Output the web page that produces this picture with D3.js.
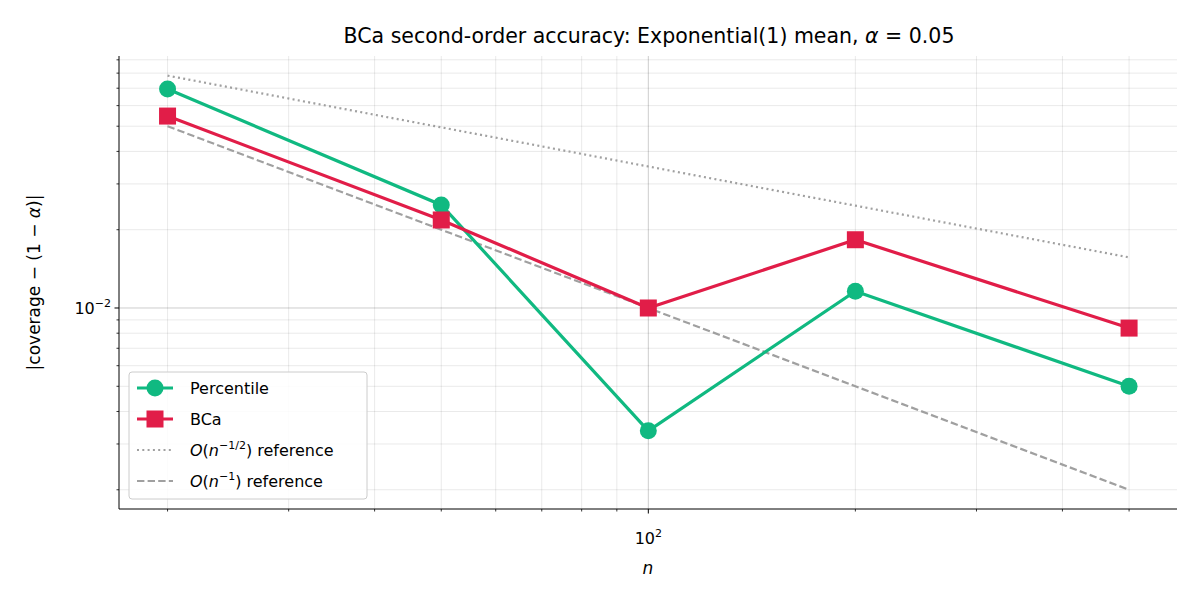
<!DOCTYPE html>
<html><head><meta charset="utf-8">
<script src="https://cdn.jsdelivr.net/npm/d3@7"></script>
<style>body{margin:0;background:#fff}text{font-family:"DejaVu Sans",sans-serif}</style>
</head><body><svg id="c" width="1200" height="600"></svg>
<script>
const ns = [20, 50, 100, 200, 500];
const percentile = [0.0695, 0.0249, 0.00337, 0.0116, 0.0050];
const bca = [0.0547, 0.0218, 0.0100, 0.0183, 0.00837];
const refHalf = ns.map(n => 0.35 / Math.sqrt(n));
const refOne = ns.map(n => 1 / n);

const svg = d3.select("#c");
const L=119,R=1177,T=56,B=509;
const x = d3.scaleLog().domain([17.0,587]).range([L,R]);
const y = d3.scaleLog().domain([0.001687,0.0931]).range([B,T]);

const xMinor=[20,30,40,50,60,70,80,90,200,300,400,500];
const yMinor=[];for(const d of [0.001,0.01])for(let k=2;k<=9;k++)yMinor.push(d*k);
const g=svg.append("g");
xMinor.forEach(v=>g.append("line").attr("x1",x(v)).attr("x2",x(v)).attr("y1",T).attr("y2",B).attr("stroke","#000").attr("stroke-opacity",0.11).attr("stroke-width",0.8));
yMinor.filter(v=>v>0.001687&&v<0.0931).forEach(v=>g.append("line").attr("x1",L).attr("x2",R).attr("y1",y(v)).attr("y2",y(v)).attr("stroke","#000").attr("stroke-opacity",0.11).attr("stroke-width",0.8));
g.append("line").attr("x1",x(100)).attr("x2",x(100)).attr("y1",T).attr("y2",B).attr("stroke","#000").attr("stroke-opacity",0.2);
g.append("line").attr("x1",L).attr("x2",R).attr("y1",y(0.01)).attr("y2",y(0.01)).attr("stroke","#000").attr("stroke-opacity",0.2);

// axes
const xa=svg.append("g").attr("transform",`translate(0,${B})`);
xa.append("line").attr("x1",L).attr("x2",R).attr("stroke","#000");
xMinor.forEach(v=>xa.append("line").attr("x1",x(v)).attr("x2",x(v)).attr("y2",2.5).attr("stroke","#000").attr("stroke-width",0.8));
xa.append("line").attr("x1",x(100)).attr("x2",x(100)).attr("y2",4.5).attr("stroke","#000");
const xt=xa.append("text").attr("x",x(100)).attr("y",35).attr("text-anchor","middle").attr("font-size",16);
xt.append("tspan").text("10");xt.append("tspan").attr("dy",-7).attr("font-size",11).text("2");
svg.append("text").attr("x",(L+R)/2).attr("y",574).attr("text-anchor","middle").attr("font-size",17).attr("font-style","italic").text("n");

const ya=svg.append("g").attr("transform",`translate(${L},0)`);
ya.append("line").attr("y1",T).attr("y2",B).attr("stroke","#000");
yMinor.filter(v=>v>0.001687&&v<0.0931).forEach(v=>ya.append("line").attr("y1",y(v)).attr("y2",y(v)).attr("x2",-2.5).attr("stroke","#000").attr("stroke-width",0.8));
ya.append("line").attr("y1",y(0.01)).attr("y2",y(0.01)).attr("x2",-4.5).attr("stroke","#000");
const yt=ya.append("text").attr("x",-8).attr("y",y(0.01)+6).attr("text-anchor","end").attr("font-size",16);
yt.append("tspan").text("10");yt.append("tspan").attr("dy",-7).attr("font-size",11).text("−2");

const yl=svg.append("text").attr("transform",`translate(40,${(T+B)/2}) rotate(-90)`).attr("text-anchor","middle").attr("font-size",17);
yl.append("tspan").text("|coverage − (1 − ");yl.append("tspan").attr("font-style","italic").text("α");yl.append("tspan").text(")|");

const tt=svg.append("text").attr("x",(L+R)/2+1).attr("y",43).attr("text-anchor","middle").attr("font-size",20.5);
tt.append("tspan").text("BCa second-order accuracy: Exponential(1) mean, ");
tt.append("tspan").attr("font-style","italic").text("α");tt.append("tspan").text(" = 0.05");

const line=d3.line().x(d=>x(d[0])).y(d=>y(d[1]));
svg.append("path").attr("d",line(ns.map((n,i)=>[n,refHalf[i]]))).attr("fill","none").attr("stroke","#a0a0a0").attr("stroke-width",2.2).attr("stroke-dasharray","2,3.3");
svg.append("path").attr("d",line(ns.map((n,i)=>[n,refOne[i]]))).attr("fill","none").attr("stroke","#a0a0a0").attr("stroke-width",2.2).attr("stroke-dasharray","7.4,3.2");
const GREEN="#10b981",RED="#e11d48";
svg.append("path").attr("d",line(ns.map((n,i)=>[n,percentile[i]]))).attr("fill","none").attr("stroke",GREEN).attr("stroke-width",3.2);
ns.forEach((n,i)=>svg.append("circle").attr("cx",x(n)).attr("cy",y(percentile[i])).attr("r",8.5).attr("fill",GREEN));
svg.append("path").attr("d",line(ns.map((n,i)=>[n,bca[i]]))).attr("fill","none").attr("stroke",RED).attr("stroke-width",3.2);
ns.forEach((n,i)=>svg.append("rect").attr("x",x(n)-8.5).attr("y",y(bca[i])-8.5).attr("width",17).attr("height",17).attr("fill",RED));

// legend
const lg=svg.append("g").attr("transform","translate(129,372)");
lg.append("rect").attr("width",238).attr("height",127).attr("rx",3).attr("fill","#fff").attr("fill-opacity",0.85).attr("stroke","#ccc");
const items=[{c:GREEN,m:"c",t:"Percentile"},{c:RED,m:"s",t:"BCa"},{c:"#a0a0a0",d:"2,3.3",t:"half"},{c:"#a0a0a0",d:"7.4,3.2",t:"one"}];
items.forEach((it,i)=>{
  const yy=16+i*31;
  lg.append("line").attr("x1",8).attr("x2",44).attr("y1",yy).attr("y2",yy).attr("stroke",it.c).attr("stroke-width",it.d?2.2:3.2).attr("stroke-dasharray",it.d||null);
  if(it.m==="c")lg.append("circle").attr("cx",26).attr("cy",yy).attr("r",8.5).attr("fill",it.c);
  if(it.m==="s")lg.append("rect").attr("x",17.5).attr("y",yy-8.5).attr("width",17).attr("height",17).attr("fill",it.c);
  const t=lg.append("text").attr("x",61).attr("y",yy+6).attr("font-size",16);
  if(it.t==="half"||it.t==="one"){
    t.append("tspan").attr("font-style","italic").text("O");t.append("tspan").text("(");
    t.append("tspan").attr("font-style","italic").text("n");
    t.append("tspan").attr("dy",-7).attr("font-size",11).text(it.t==="half"?"−1/2":"−1");
    t.append("tspan").attr("dy",7).text(") reference");
  } else t.text(it.t);
});
</script></body></html>
